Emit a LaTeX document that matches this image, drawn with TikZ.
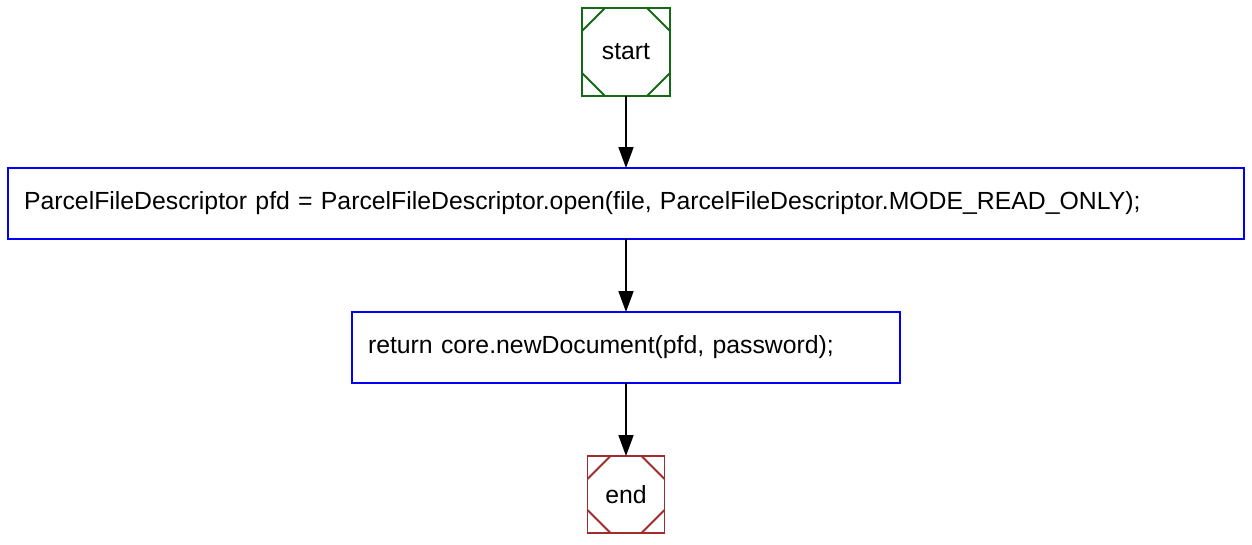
\documentclass[tikz,border=0pt]{standalone}
\usepackage{fontspec}
\setmainfont{Liberation Sans}
\usetikzlibrary{arrows.meta}

\definecolor{startgreen}{RGB}{20,105,20}
\definecolor{endred}{RGB}{160,45,45}
\definecolor{stmtblue}{RGB}{0,0,245}

\newcommand{\cutsize}{23pt}

\begin{document}
\begin{tikzpicture}[x=1pt, y=-1pt,
    font=\fontsize{24.8}{29}\selectfont,
    terminal/.style={rectangle, draw=#1, line width=1.8pt, minimum size=88pt,
      inner sep=0pt, outer sep=0pt,
      path picture={
        \draw[#1, line width=1.8pt]
          ([xshift=\cutsize]path picture bounding box.north west) -- ([yshift=-\cutsize]path picture bounding box.north west)
          ([xshift=-\cutsize]path picture bounding box.north east) -- ([yshift=-\cutsize]path picture bounding box.north east)
          ([xshift=\cutsize]path picture bounding box.south west) -- ([yshift=\cutsize]path picture bounding box.south west)
          ([xshift=-\cutsize]path picture bounding box.south east) -- ([yshift=\cutsize]path picture bounding box.south east);
      }},
    stmt/.style={rectangle, draw=stmtblue, line width=1.8pt, minimum height=71pt,
      inner xsep=16pt, inner ysep=0pt, outer sep=0pt, align=left},
    flow/.style={-{Triangle[width=15pt,length=21pt]}, line width=1.8pt}]
  \useasboundingbox (0,0) rectangle (1252,544);

  \node[terminal=startgreen] (start) at (626,52) {start};
  \node[stmt, text width=1204pt] (open) at (626,203.5) {ParcelFileDescriptor pfd = ParcelFileDescriptor.open(file, ParcelFileDescriptor.MODE\_READ\_ONLY);};
  \node[stmt, text width=516pt] (ret) at (626,347.5) {return core.newDocument(pfd, password);};
  \node[terminal=endred, minimum size=77pt] (end) at (626,494.5) {end};

  \draw[flow] (start) -- (open);
  \draw[flow] (open) -- (ret);
  \draw[flow] (ret) -- (end);
\end{tikzpicture}
\end{document}
